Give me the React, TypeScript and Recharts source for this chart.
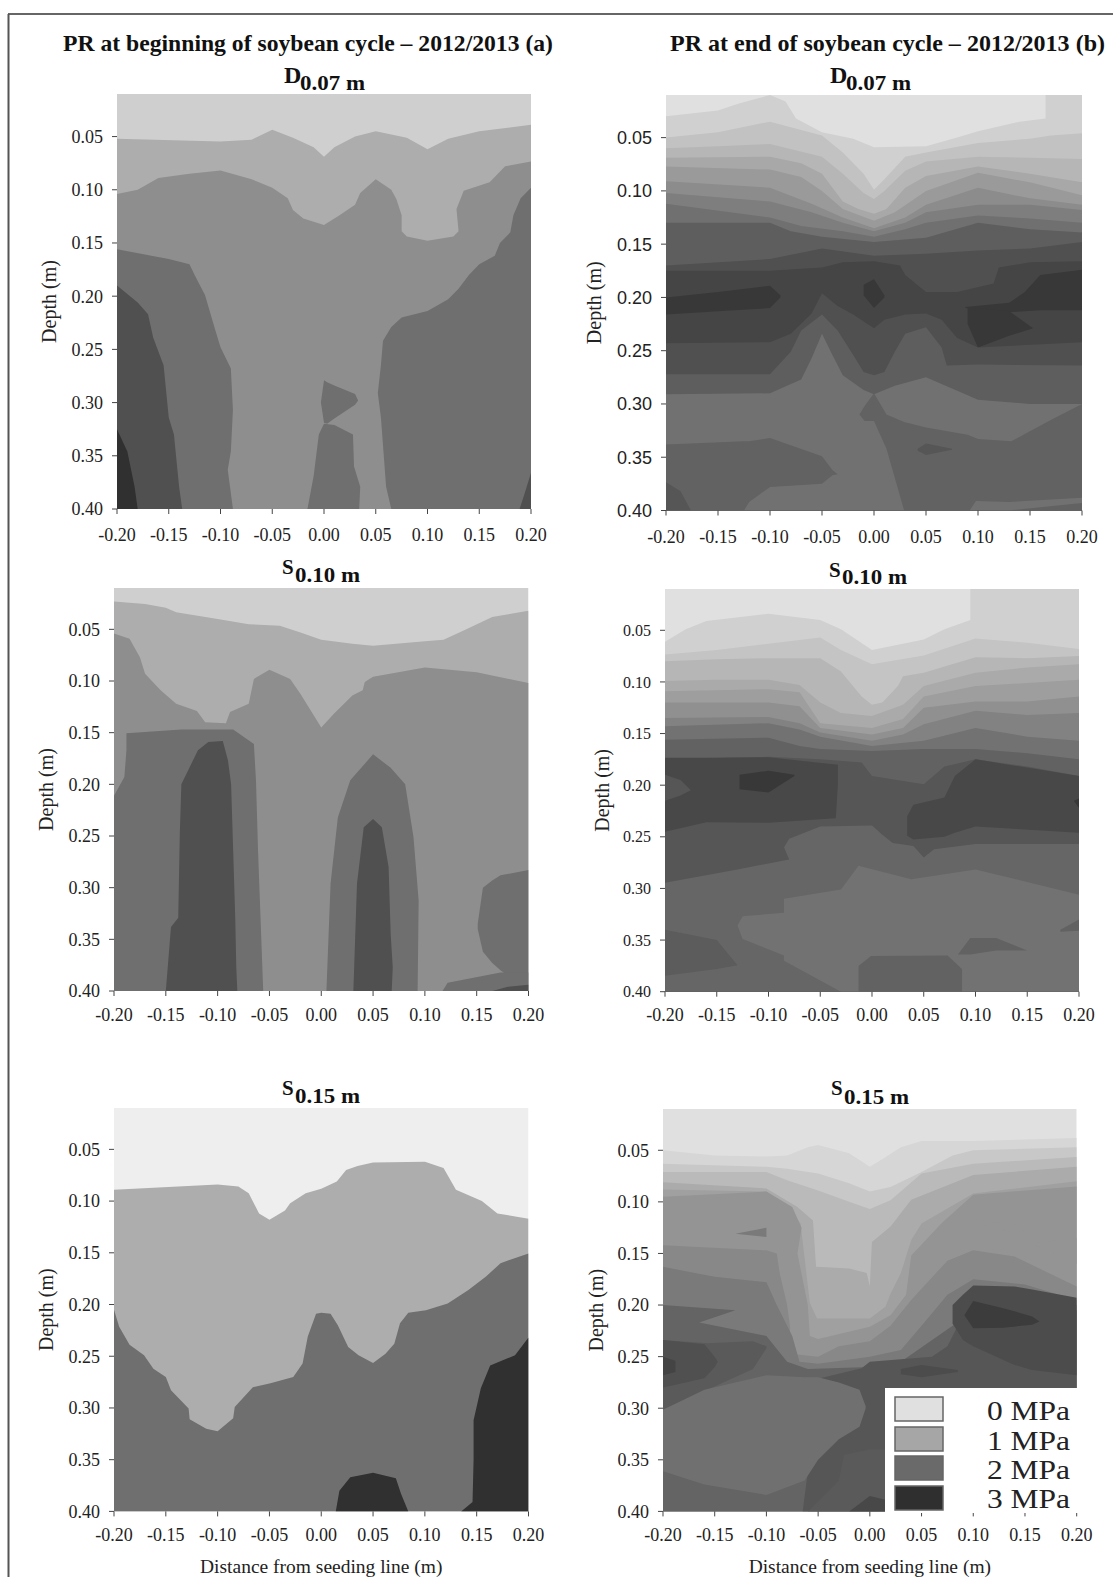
import React from "react";
import { ComposedChart, Area, XAxis, YAxis } from "recharts";

type P = number[];

const xTicks = [-0.2, -0.15, -0.1, -0.05, 0, 0.05, 0.1, 0.15, 0.2];
const yTicks = [0.05, 0.1, 0.15, 0.2, 0.25, 0.3, 0.35, 0.4];
const legendLabels = ["0 MPa", "1 MPa", "2 MPa", "3 MPa"];

// ---- beginning of cycle, D0.07
const a1k1: P[] = [[-0.2,0.052],[-0.1,0.0546],[-0.07,0.053],[-0.05,0.0435],[-0.03,0.051],[-0.01,0.06],[0,0.069],[0.01,0.06],[0.03,0.05],[0.05,0.045],[0.08,0.051],[0.1,0.062],[0.12,0.052],[0.15,0.045],[0.2,0.039]];
const a1k2: P[] = [[-0.2,0.104],[-0.18,0.1],[-0.16,0.089],[-0.13,0.085],[-0.1,0.082],[-0.07,0.09],[-0.05,0.098],[-0.035,0.108],[-0.03,0.119],[-0.02,0.127],[0,0.133],[0.015,0.124],[0.03,0.114],[0.035,0.103],[0.05,0.09],[0.065,0.1],[0.07,0.109],[0.075,0.124],[0.075,0.139],[0.08,0.144],[0.1,0.148],[0.125,0.144],[0.13,0.139],[0.128,0.118],[0.135,0.101],[0.16,0.093],[0.175,0.078],[0.2,0.0735]];
const a1k3L: P[] = [[-0.2,0.156],[-0.15,0.165],[-0.13,0.17],[-0.125,0.18],[-0.115,0.199],[-0.105,0.232],[-0.1,0.248],[-0.09,0.268],[-0.088,0.307],[-0.09,0.346],[-0.093,0.363],[-0.09,0.385],[-0.088,0.4]];
const a1k3R: P[] = [[0.065,0.4],[0.06,0.379],[0.055,0.314],[0.052,0.291],[0.055,0.265],[0.057,0.242],[0.065,0.229],[0.075,0.22],[0.1,0.214],[0.12,0.203],[0.13,0.193],[0.14,0.18],[0.15,0.17],[0.165,0.162],[0.17,0.15],[0.18,0.14],[0.183,0.124],[0.19,0.108],[0.2,0.098]];
const a1k4: P[] = [[-0.2,0.19],[-0.18,0.206],[-0.17,0.217],[-0.165,0.239],[-0.155,0.265],[-0.15,0.314],[-0.145,0.33],[-0.14,0.379],[-0.137,0.4]];
const a1k5: P[] = [[-0.2,0.325],[-0.19,0.346],[-0.183,0.379],[-0.18,0.4]];
const a1isl1: P[] = [[-0.016,0.4],[-0.01,0.369],[-0.005,0.33],[0,0.32],[0.01,0.321],[0.028,0.33],[0.029,0.36],[0.035,0.379],[0.034,0.4]];
const a1isl2: P[] = [[-0.003,0.3,0.3],[0,0.279,0.319],[0.003,0.281,0.32],[0.01,0.284,0.315],[0.03,0.292,0.302],[0.033,0.298,0.298]];
const a1cor: P[] = [[0.189,0.4],[0.194,0.385],[0.2,0.366]];

// ---- beginning of cycle, S0.10
const a2k1: P[] = [[-0.2,0.023],[-0.17,0.0255],[-0.15,0.029],[-0.14,0.0335],[-0.1,0.04],[-0.07,0.045],[-0.04,0.0465],[-0.02,0.053],[0,0.06],[0.03,0.064],[0.05,0.066],[0.1,0.0615],[0.118,0.06],[0.14,0.05],[0.165,0.038],[0.2,0.032]];
const a2k2: P[] = [[-0.2,0.054],[-0.185,0.059],[-0.175,0.077],[-0.17,0.093],[-0.155,0.109],[-0.14,0.122],[-0.12,0.129],[-0.112,0.14],[-0.092,0.141],[-0.088,0.13],[-0.07,0.122],[-0.065,0.098],[-0.05,0.089],[-0.03,0.098],[-0.02,0.1125],[0,0.145],[0.012,0.132],[0.03,0.114],[0.04,0.109],[0.042,0.101],[0.05,0.096],[0.1,0.087],[0.15,0.0916],[0.2,0.102]];
const a2k3: P[] = [[-0.2,0.211],[-0.19,0.193],[-0.188,0.167],[-0.188,0.1505],[-0.135,0.147],[-0.085,0.147],[-0.065,0.161],[-0.063,0.196],[-0.061,0.264],[-0.056,0.4]];
const a2k4: P[] = [[-0.15,0.4],[-0.145,0.338],[-0.138,0.329],[-0.1365,0.248],[-0.135,0.2],[-0.119,0.167],[-0.109,0.159],[-0.095,0.158],[-0.09,0.177],[-0.087,0.2],[-0.085,0.264],[-0.083,0.329],[-0.082,0.377],[-0.081,0.4]];
const a2h1: P[] = [[0.005,0.4],[0.009,0.296],[0.016,0.232],[0.028,0.196],[0.05,0.171],[0.067,0.184],[0.081,0.2],[0.089,0.251],[0.094,0.3125],[0.093,0.4]];
const a2h2: P[] = [[0.031,0.4],[0.0345,0.296],[0.041,0.2416],[0.05,0.2335],[0.0585,0.2416],[0.065,0.28],[0.067,0.345],[0.069,0.377],[0.068,0.4]];
const a2r1: P[] = [[0.151,0.335,0.34],[0.156,0.3,0.362],[0.165,0.293,0.373],[0.173,0.288,0.38],[0.2,0.283,0.4]];
const a2r2: P[] = [[0.117,0.4],[0.122,0.392],[0.173,0.382],[0.2,0.382]];
const a2r3: P[] = [[0.165,0.4],[0.18,0.396],[0.2,0.394]];

// ---- beginning of cycle, S0.15
const a3k1: P[] = [[-0.2,0.089],[-0.1,0.084],[-0.08,0.086],[-0.07,0.0925],[-0.06,0.112],[-0.05,0.118],[-0.035,0.109],[-0.03,0.102],[-0.015,0.0925],[0,0.088],[0.015,0.081],[0.024,0.07],[0.035,0.066],[0.05,0.0626],[0.1,0.062],[0.118,0.068],[0.13,0.089],[0.155,0.1],[0.17,0.112],[0.2,0.117]];
const a3k2: P[] = [[-0.2,0.205],[-0.195,0.2216],[-0.185,0.239],[-0.171,0.249],[-0.162,0.262],[-0.15,0.27],[-0.145,0.283],[-0.128,0.3006],[-0.127,0.311],[-0.111,0.32],[-0.1,0.3226],[-0.085,0.31],[-0.0835,0.299],[-0.066,0.28],[-0.049,0.276],[-0.027,0.27],[-0.018,0.257],[-0.013,0.231],[-0.005,0.209],[0,0.208],[0.009,0.209],[0.016,0.22],[0.026,0.241],[0.036,0.249],[0.05,0.2565],[0.062,0.2475],[0.0705,0.238],[0.076,0.218],[0.084,0.208],[0.101,0.2055],[0.122,0.199],[0.142,0.186],[0.159,0.173],[0.173,0.16],[0.2,0.1506]];
const a3k3: P[] = [[0.135,0.4],[0.146,0.391],[0.147,0.35],[0.147,0.312],[0.154,0.281],[0.163,0.259],[0.187,0.249],[0.2,0.232]];
const a3k4: P[] = [[0.014,0.4],[0.0175,0.38],[0.028,0.367],[0.05,0.3626],[0.072,0.368],[0.077,0.383],[0.084,0.4]];

// ---- end of cycle, D0.07
const b1c1: P[] = [[-0.2,0.03],[-0.15,0.0245],[-0.13,0.018],[-0.1,0.01],[-0.085,0.016],[-0.075,0.032],[-0.05,0.045],[-0.02,0.051],[0,0.059],[0.05,0.058],[0.08,0.05],[0.1,0.044],[0.14,0.035],[0.165,0.032],[0.165,0.01],[0.2,0.01]];
const b1c2: P[] = [[-0.2,0.05],[-0.15,0.045],[-0.1,0.035],[-0.05,0.048],[-0.03,0.064],[-0.01,0.084],[0,0.099],[0.01,0.089],[0.03,0.068],[0.05,0.064],[0.1,0.055],[0.15,0.051],[0.17,0.048],[0.2,0.046]];
const b1c3: P[] = [[-0.2,0.06],[-0.15,0.058],[-0.1,0.056],[-0.05,0.068],[-0.03,0.084],[-0.01,0.102],[0,0.1075],[0.01,0.1],[0.03,0.081],[0.05,0.0725],[0.1,0.068],[0.15,0.069],[0.2,0.07]];
const b1c4: P[] = [[-0.2,0.069],[-0.1,0.068],[-0.07,0.074],[-0.05,0.084],[-0.03,0.11],[-0.015,0.117],[0,0.1215],[0.012,0.117],[0.03,0.097],[0.05,0.086],[0.1,0.077],[0.15,0.084],[0.2,0.092]];
const b1c5: P[] = [[-0.2,0.077],[-0.1,0.08],[-0.07,0.087],[-0.05,0.1],[-0.03,0.117],[0,0.128],[0.02,0.12],[0.05,0.1],[0.1,0.083],[0.15,0.092],[0.2,0.104]];
const b1c6: P[] = [[-0.2,0.091],[-0.1,0.097],[-0.06,0.112],[-0.03,0.125],[0,0.135],[0.03,0.125],[0.05,0.113],[0.1,0.097],[0.15,0.107],[0.2,0.113]];
const b1c7: P[] = [[-0.2,0.102],[-0.1,0.11],[-0.06,0.12],[-0.03,0.13],[0,0.138],[0.03,0.13],[0.05,0.12],[0.1,0.113],[0.15,0.113],[0.2,0.118]];
const b1c8: P[] = [[-0.2,0.112],[-0.1,0.125],[-0.07,0.133],[-0.03,0.138],[0,0.143],[0.03,0.136],[0.05,0.13],[0.1,0.123],[0.15,0.126],[0.2,0.13]];
const b1c9: P[] = [[-0.2,0.13],[-0.1,0.13],[-0.08,0.138],[-0.05,0.143],[0,0.148],[0.05,0.144],[0.1,0.13],[0.15,0.136],[0.2,0.139]];
const b1c10: P[] = [[-0.2,0.17],[-0.1,0.164],[-0.05,0.154],[0,0.161],[0.05,0.159],[0.1,0.156],[0.15,0.154],[0.2,0.148]];
const b1c11: P[] = [[-0.2,0.175],[-0.1,0.175],[-0.05,0.172],[-0.03,0.167],[0,0.166],[0.025,0.17],[0.03,0.179],[0.05,0.195],[0.08,0.195],[0.115,0.187],[0.12,0.172],[0.15,0.167],[0.2,0.166]];
const b1d1: P[] = [[-0.2,0.2,0.216],[-0.15,0.195,0.213],[-0.1,0.189,0.21],[-0.09,0.198,0.2]];
const b1d2: P[] = [[-0.01,0.188,0.198],[0,0.183,0.21],[0.01,0.198,0.2]];
const b1d3: P[] = [[0.088,0.209,0.21],[0.13,0.205,0.214],[0.145,0.195,0.213],[0.16,0.179,0.212],[0.2,0.174,0.212]];
const b1d4: P[] = [[0.09,0.21,0.225],[0.1,0.21,0.247],[0.13,0.213,0.236],[0.153,0.229,0.229]];
const b1c14: P[] = [[-0.2,0.243],[-0.1,0.242],[-0.08,0.234],[-0.06,0.215],[-0.05,0.196],[-0.035,0.208],[-0.02,0.216],[0,0.229],[0.01,0.221],[0.03,0.216],[0.05,0.215],[0.065,0.221],[0.08,0.238],[0.1,0.247],[0.2,0.242]];
const b1c15: P[] = [[-0.2,0.272],[-0.1,0.272],[-0.08,0.251],[-0.07,0.231],[-0.05,0.216],[-0.035,0.231],[-0.02,0.254],[-0.01,0.27],[0,0.273],[0.01,0.27],[0.02,0.251],[0.03,0.234],[0.05,0.228],[0.065,0.247],[0.07,0.264],[0.1,0.263],[0.2,0.264]];
const b1c16: P[] = [[-0.2,0.291],[-0.1,0.29],[-0.07,0.277],[-0.06,0.257],[-0.05,0.234],[-0.04,0.254],[-0.03,0.273],[-0.01,0.287],[0,0.291],[0.02,0.283],[0.05,0.275],[0.1,0.296],[0.15,0.3],[0.2,0.3]];
const b1l1: P[] = [[-0.2,0.338,0.4],[-0.125,0.335,0.4],[-0.12,0.335,0.392],[-0.1,0.332,0.378],[-0.05,0.349,0.375],[-0.04,0.362,0.367],[-0.035,0.366,0.366]];
const b1r1: P[] = [[-0.014,0.31,0.31],[-0.009,0.302,0.316],[0,0.29,0.316],[0.012,0.31,0.342],[0.029,0.317,0.4],[0.05,0.322,0.4],[0.09,0.329,0.4],[0.1,0.333,0.4],[0.132,0.335,0.4],[0.17,0.315,0.4],[0.2,0.3,0.4]];
const b1r2: P[] = [[0.092,0.4,0.4],[0.098,0.391,0.4],[0.13,0.392,0.4],[0.2,0.388,0.393]];
const b1r3: P[] = [[0.042,0.342,0.344],[0.05,0.337,0.348],[0.075,0.342,0.343]];
const b1cor: P[] = [[-0.2,0.3735],[-0.186,0.382],[-0.176,0.4]];

// ---- end of cycle, S0.10
const b2c1: P[] = [[-0.2,0.061],[-0.18,0.049],[-0.16,0.041],[-0.1,0.034],[-0.05,0.04],[-0.03,0.049],[0,0.069],[0.05,0.059],[0.07,0.049],[0.095,0.04],[0.095,0.01],[0.2,0.01]];
const b2c2: P[] = [[-0.2,0.0735],[-0.15,0.069],[-0.1,0.063],[-0.05,0.057],[-0.03,0.069],[0,0.083],[0.05,0.0745],[0.1,0.058],[0.15,0.062],[0.2,0.068]];
const b2c3: P[] = [[-0.2,0.08],[-0.15,0.078],[-0.1,0.077],[-0.05,0.077],[-0.03,0.09],[-0.01,0.114],[0,0.122],[0.01,0.12],[0.025,0.104],[0.03,0.0945],[0.05,0.091],[0.1,0.076],[0.15,0.077],[0.2,0.075]];
const b2c4: P[] = [[-0.2,0.099],[-0.15,0.098],[-0.1,0.098],[-0.07,0.103],[-0.05,0.12],[-0.03,0.13],[0,0.133],[0.03,0.122],[0.05,0.104],[0.1,0.091],[0.15,0.086],[0.2,0.083]];
const b2c5: P[] = [[-0.2,0.109],[-0.1,0.107],[-0.07,0.11],[-0.05,0.14],[0,0.1445],[0.03,0.136],[0.05,0.114],[0.1,0.104],[0.15,0.101],[0.2,0.098]];
const b2c6: P[] = [[-0.2,0.12],[-0.1,0.12],[-0.07,0.1235],[-0.05,0.1445],[0,0.151],[0.03,0.1445],[0.05,0.125],[0.1,0.119],[0.15,0.119],[0.2,0.114]];
const b2c7: P[] = [[-0.2,0.135],[-0.1,0.134],[-0.07,0.14],[-0.05,0.149],[0,0.157],[0.03,0.151],[0.05,0.141],[0.1,0.128],[0.15,0.132],[0.2,0.13]];
const b2c8: P[] = [[-0.2,0.143],[-0.1,0.14],[-0.07,0.146],[-0.05,0.153],[0,0.162],[0.05,0.157],[0.1,0.1445],[0.15,0.153],[0.2,0.157]];
const b2c9: P[] = [[-0.2,0.156],[-0.1,0.154],[-0.07,0.162],[-0.05,0.165],[0,0.167],[0.05,0.165],[0.1,0.165],[0.15,0.169],[0.2,0.175]];
const b2c10: P[] = [[-0.2,0.175],[-0.1,0.1725],[-0.05,0.175],[-0.01,0.178],[0,0.191],[0.05,0.199],[0.07,0.182],[0.1,0.175],[0.15,0.182],[0.2,0.191]];
const b2l2: P[] = [[-0.2,0.2945],[-0.13,0.2816],[-0.08,0.272],[-0.085,0.26],[-0.08,0.252],[-0.05,0.24],[0,0.239],[0.01,0.248],[0.02,0.256],[0.04,0.259],[0.05,0.27],[0.06,0.262],[0.1,0.257],[0.2,0.257]];
const b2i1: P[] = [[-0.2,0.1735,0.245],[-0.16,0.1735,0.236],[-0.1,0.173,0.2365],[-0.035,0.18,0.232],[-0.033,0.18,0.2]];
const b2w1: P[] = [[-0.2,0.19,0.215],[-0.185,0.195,0.21],[-0.175,0.205,0.205]];
const b2i2: P[] = [[-0.128,0.19,0.204],[-0.1,0.186,0.207],[-0.075,0.19,0.191]];
const b2i3: P[] = [[0.034,0.23,0.249],[0.04,0.219,0.2525],[0.07,0.212,0.25],[0.08,0.191,0.246],[0.1,0.175,0.24],[0.2,0.191,0.246]];
const b2i4: P[] = [[0.195,0.215,0.215],[0.2,0.213,0.222]];
const b2m: P[] = [[-0.13,0.336,0.336],[-0.125,0.327,0.349],[-0.085,0.3235,0.365],[-0.085,0.31,0.37],[-0.03,0.301,0.4],[-0.013,0.278,0.4],[0.038,0.291,0.4],[0.1,0.2816,0.4],[0.2,0.306,0.4]];
const b2b1: P[] = [[-0.2,0.34,0.3845],[-0.15,0.35,0.378],[-0.13,0.3745,0.3745]];
const b2b2: P[] = [[-0.013,0.4],[-0.013,0.375],[-0.001,0.3655],[0.073,0.365],[0.087,0.378],[0.087,0.4]];
const b2b3: P[] = [[0.083,0.364,0.364],[0.095,0.348,0.364],[0.12,0.348,0.36],[0.15,0.36,0.36]];
const b2b4: P[] = [[0.182,0.34,0.342],[0.2,0.33,0.341]];

// ---- end of cycle, S0.15
const b3k1: P[] = [[-0.2,0.05],[-0.15,0.055],[-0.1,0.056],[-0.08,0.055],[-0.06,0.047],[-0.05,0.045],[-0.02,0.053],[0,0.066],[0.01,0.06],[0.03,0.047],[0.05,0.041],[0.1,0.041],[0.2,0.038]];
const b3k2: P[] = [[-0.2,0.063],[-0.1,0.066],[-0.08,0.068],[-0.05,0.0725],[-0.02,0.082],[0,0.09],[0.02,0.0855],[0.05,0.071],[0.08,0.055],[0.1,0.05],[0.2,0.047]];
const b3k3: P[] = [[-0.2,0.071],[-0.1,0.071],[-0.08,0.079],[-0.05,0.089],[-0.02,0.1],[0,0.107],[0.02,0.0985],[0.05,0.0725],[0.1,0.063],[0.2,0.0565]];
const b3k4: P[] = [[-0.2,0.081],[-0.1,0.087],[-0.07,0.105],[-0.055,0.118],[-0.052,0.163],[-0.02,0.1645],[-0.003,0.169],[0,0.182],[0.002,0.139],[0.02,0.124],[0.04,0.098],[0.1,0.074],[0.2,0.066]];
const b3k5: P[] = [[-0.2,0.088],[-0.1,0.09],[-0.08,0.105],[-0.067,0.121],[-0.058,0.198],[-0.051,0.213],[0,0.213],[0.015,0.2016],[0.02,0.189],[0.03,0.169],[0.04,0.137],[0.05,0.121],[0.1,0.092],[0.2,0.08]];
const b3k6: P[] = [[-0.2,0.095],[-0.1,0.09],[-0.075,0.105],[-0.066,0.125],[-0.07,0.15],[-0.06,0.2],[-0.058,0.23],[-0.05,0.233],[0,0.221],[0.02,0.21],[0.035,0.19],[0.04,0.152],[0.07,0.12],[0.1,0.093],[0.2,0.085]];
const b3k7: P[] = [[-0.2,0.142],[-0.1,0.147],[-0.09,0.15],[-0.087,0.17],[-0.08,0.2],[-0.077,0.222],[-0.079,0.247],[-0.05,0.25],[-0.03,0.24],[0,0.235],[0.02,0.22],[0.04,0.195],[0.075,0.157],[0.1,0.147],[0.14,0.153],[0.2,0.182]];
const b3k8: P[] = [[-0.2,0.163],[-0.15,0.1726],[-0.1,0.178],[-0.09,0.2],[-0.075,0.23],[-0.068,0.255],[-0.05,0.257],[0,0.25],[0.03,0.2435],[0.05,0.22],[0.075,0.19],[0.1,0.175],[0.15,0.18],[0.2,0.195]];
const b3k9: P[] = [[-0.2,0.2],[-0.13,0.205],[-0.165,0.217],[-0.1,0.23],[-0.08,0.255],[-0.06,0.262],[0,0.26],[0.03,0.255],[0.08,0.22],[0.1,0.2],[0.15,0.2],[0.2,0.2]];
const b3low: P[] = [[-0.065,0.4],[-0.048,0.271],[-0.008,0.2613],[0,0.255],[0.06,0.25],[0.075,0.24],[0.08,0.23],[0.09,0.21],[0.1,0.2],[0.12,0.197],[0.2,0.205]];
const b3d1: P[] = [[0.08,0.2,0.218],[0.09,0.19,0.234],[0.1,0.181,0.24],[0.14,0.182,0.258],[0.157,0.185,0.263],[0.2,0.193,0.268]];
const b3d2: P[] = [[0.0914,0.21,0.21],[0.1,0.196,0.2226],[0.129,0.203,0.222],[0.157,0.211,0.219],[0.164,0.216,0.216]];
const b3l1: P[] = [[-0.2,0.234,0.3016],[-0.157,0.237,0.282],[-0.113,0.235,0.262],[-0.1,0.24,0.242]];
const b3l2: P[] = [[-0.2,0.234,0.28],[-0.16,0.238,0.271],[-0.15,0.25,0.26],[-0.147,0.255,0.255]];
const b3l3: P[] = [[-0.2,0.25,0.268],[-0.188,0.254,0.265]];
const b3m: P[] = [[-0.2,0.3016,0.361],[-0.16,0.282,0.374],[-0.1,0.268,0.384],[-0.063,0.27,0.37],[-0.05,0.27,0.35],[-0.03,0.275,0.33],[-0.01,0.282,0.318],[-0.004,0.298,0.3]];
const b3c1: P[] = [[-0.06,0.4],[-0.03,0.37],[-0.025,0.345],[0,0.34],[0.02,0.34]];
const b3c2: P[] = [[-0.02,0.4],[0,0.385],[0.02,0.39]];
const b3e1: P[] = [[-0.13,0.131,0.131],[-0.1,0.125,0.134]];
const b3e2: P[] = [[0.16,0.14,0.142],[0.19,0.136,0.155],[0.2,0.135,0.16]];
const b3e3: P[] = [[0.03,0.262,0.267],[0.05,0.258,0.27],[0.085,0.263,0.265]];
const b3e4: P[] = [[0.1,0.117,0.12],[0.14,0.122,0.13],[0.148,0.127,0.128]];

type Panel = {
  box: number[]; base: string; layers: [P[], string][]; serif: boolean; yFont: number; labelX: number; xGap: number; xTitle?: boolean;
};
const panels: Panel[] = [
  { box: [117, 531, 94, 509], base: "#cfcfcf", serif: true, yFont: 18, labelX: 49, xGap: 14,
    layers: [[a1k1,"#adadad"],[a1k2,"#8e8e8e"],[a1k3L,"#6f6f6f"],[a1k3R,"#6f6f6f"],[a1k4,"#505050"],[a1k5,"#303030"],[a1isl1,"#6f6f6f"],[a1isl2,"#6f6f6f"],[a1cor,"#505050"]] },
  { box: [666, 1082, 94.5, 510], base: "#e0e0e0", serif: false, yFont: 18, labelX: 594, xGap: 15,
    layers: [[b1c1,"#d0d0d0"],[b1c2,"#c2c2c2"],[b1c3,"#b6b6b6"],[b1c4,"#a8a8a8"],[b1c5,"#9a9a9a"],[b1c6,"#8c8c8c"],[b1c7,"#7e7e7e"],[b1c8,"#707070"],[b1c9,"#5e5e5e"],[b1c10,"#505050"],[b1c11,"#454545"],[b1d1,"#383838"],[b1d2,"#383838"],[b1d3,"#383838"],[b1d4,"#383838"],[b1c14,"#505050"],[b1c15,"#5e5e5e"],[b1c16,"#717171"],[b1l1,"#626262"],[b1r1,"#626262"],[b1r2,"#717171"],[b1r3,"#565656"],[b1cor,"#565656"]] },
  { box: [113.5, 528, 587.7, 990.7], base: "#cfcfcf", serif: true, yFont: 18, labelX: 45, xGap: 12,
    layers: [[a2k1,"#adadad"],[a2k2,"#8e8e8e"],[a2k3,"#6f6f6f"],[a2k4,"#505050"],[a2h1,"#6f6f6f"],[a2h2,"#505050"],[a2r1,"#6f6f6f"],[a2r2,"#6f6f6f"],[a2r3,"#505050"]] },
  { box: [665, 1079, 589, 991.7], base: "#e0e0e0", serif: true, yFont: 16, labelX: 602, xGap: 12,
    layers: [[b2c1,"#d0d0d0"],[b2c2,"#c4c4c4"],[b2c3,"#b6b6b6"],[b2c4,"#aaaaaa"],[b2c5,"#9e9e9e"],[b2c6,"#909090"],[b2c7,"#828282"],[b2c8,"#727272"],[b2c9,"#626262"],[b2c10,"#565656"],[b2l2,"#666666"],[b2i1,"#484848"],[b2w1,"#565656"],[b2i2,"#383838"],[b2i3,"#484848"],[b2i4,"#383838"],[b2m,"#727272"],[b2b1,"#5c5c5c"],[b2b2,"#626262"],[b2b3,"#626262"],[b2b4,"#626262"]] },
  { box: [113.5, 528, 1108.3, 1511.7], base: "#eeeeee", serif: true, yFont: 18, labelX: 45, xGap: 12, xTitle: true,
    layers: [[a3k1,"#adadad"],[a3k2,"#6f6f6f"],[a3k3,"#303030"],[a3k4,"#303030"]] },
  { box: [663.3, 1077, 1109.3, 1511.7], base: "#e0e0e0", serif: true, yFont: 18, labelX: 596, xGap: 12, xTitle: true,
    layers: [[b3k1,"#d6d6d6"],[b3k2,"#c8c8c8"],[b3k3,"#bababa"],[b3k4,"#ababab"],[b3k5,"#a0a0a0"],[b3k6,"#949494"],[b3k7,"#888888"],[b3k8,"#7a7a7a"],[b3e4,"#949494"],[b3e2,"#949494"],[b3e1,"#7a7a7a"],[b3k9,"#646464"],[b3low,"#565656"],[b3d1,"#4c4c4c"],[b3d2,"#3c3c3c"],[b3l1,"#5a5a5a"],[b3l2,"#505050"],[b3l3,"#444444"],[b3m,"#707070"],[b3c1,"#5a5a5a"],[b3c2,"#484848"],[b3e3,"#4c4c4c"]] },
];

const SERIF = "'Liberation Serif', serif";
const SANS = "'Liberation Sans', sans-serif";
const Y_W = 110;
const X_H = 70;

function rows(pts: P[]) {
  return pts.map(([x, t, b]) => ({ x, band: [t, b === undefined ? 0.4 : b] }));
}

function ContourPanel({ p }: { p: Panel }) {
  const [L, R, T, B] = p.box;
  const width = R - L + Y_W + 30;
  const height = B - T + X_H + 4;
  return (
    <div style={{ position: "absolute", left: L - Y_W, top: T - 4 }}>
      <ComposedChart width={width} height={height} margin={{ top: 4, right: 30, bottom: 0, left: 0 }}>
        <XAxis type="number" dataKey="x" domain={[-0.2, 0.2]} ticks={xTicks} interval={0} allowDataOverflow
          height={X_H} axisLine={false} tickLine={{ stroke: "#444", strokeWidth: 1 }} tickSize={5} tickMargin={p.xGap}
          tickFormatter={(v: number) => v.toFixed(2)} tick={{ fontFamily: SERIF, fontSize: 18, fill: "#222" }}
          label={p.xTitle ? { value: "Distance from seeding line (m)", position: "insideBottom", offset: 8, style: { fontFamily: SERIF, fontSize: 19.5, fill: "#222" } } : undefined} />
        <YAxis type="number" domain={[0.01, 0.4]} reversed ticks={yTicks} interval={0} allowDataOverflow
          width={Y_W} axisLine={false} tickLine={{ stroke: "#444", strokeWidth: 1 }} tickSize={5} tickMargin={9}
          tickFormatter={(v: number) => v.toFixed(2)}
          tick={{ fontFamily: p.serif ? SERIF : SANS, fontSize: p.yFont, fill: "#222" }}
          label={{ value: "Depth (m)", angle: -90, position: "insideLeft", offset: p.labelX - (L - Y_W), style: { fontFamily: SERIF, fontSize: 20, fill: "#222", textAnchor: "middle" } }} />
        <Area data={rows([[-0.2, 0.01, 0.4], [0.2, 0.01, 0.4]])} dataKey="band" type="linear" fill={p.base} fillOpacity={1} stroke="none" dot={false} activeDot={false} isAnimationActive={false} />
        {p.layers.map(([pts, tone], i) => (
          <Area key={i} data={rows(pts)} dataKey="band" type="linear" fill={tone} fillOpacity={1} stroke="none" dot={false} activeDot={false} isAnimationActive={false} />
        ))}
      </ComposedChart>
    </div>
  );
}

const mainTitles: [string, number, number, number][] = [
  ["PR at beginning of soybean cycle – 2012/2013 (a)", 63, 51, 490],
  ["PR at end of soybean cycle – 2012/2013 (b)", 670, 51, 435],
];
const subTitles: [string, string, number, number, number][] = [
  ["D", "0.07 m", 284, 83, 90],
  ["D", "0.07 m", 830, 83, 90],
  ["S", "0.10 m", 282, 574, 582],
  ["S", "0.10 m", 829, 577, 584],
  ["S", "0.15 m", 282, 1095, 1103],
  ["S", "0.15 m", 831, 1095, 1104],
];
const legendTones = ["#e0e0e0", "#a6a6a6", "#6a6a6a", "#2f2f2f"];
const legendTop = [1397, 1427, 1456, 1486];
const legendBase = [1420, 1450, 1479, 1508];

export default function App() {
  return (
    <div style={{ position: "absolute", left: 0, top: 0, width: 1113, height: 1577, background: "#fff", overflow: "hidden" }}>
      {panels.map((p, i) => <ContourPanel key={i} p={p} />)}
      <svg width={1113} height={1577} style={{ position: "absolute", left: 0, top: 0, pointerEvents: "none" }}>
        <line x1={8} y1={14} x2={1113} y2={14} stroke="#333" strokeWidth={1.5} />
        <line x1={8.5} y1={14} x2={8.5} y2={1577} stroke="#555" strokeWidth={2} />
        {mainTitles.map(([t, x, y, w], i) => (
          <text key={i} x={x} y={y} textLength={w} lengthAdjust="spacingAndGlyphs" fontFamily={SERIF} fontWeight="bold" fontSize={22.5} fill="#111">{t}</text>
        ))}
        {subTitles.map(([a, b, x, y1, y2], i) => (
          <g key={i} fontFamily={SERIF} fontWeight="bold" fill="#111">
            <text x={x} y={y1} fontSize={a === "D" ? 24 : 21}>{a}</text>
            <text x={x + (a === "D" ? 16 : 13)} y={y2} fontSize={22} textLength={65} lengthAdjust="spacingAndGlyphs">{b}</text>
          </g>
        ))}
        <rect x={885} y={1388} width={193} height={125} fill="#fff" />
        {legendLabels.map((t, i) => (
          <g key={t}>
            <rect x={895} y={legendTop[i]} width={48} height={24} fill={legendTones[i]} stroke="#666" strokeWidth={1.5} />
            <text x={987} y={legendBase[i]} fontFamily={SERIF} fontSize={27} textLength={83} lengthAdjust="spacingAndGlyphs" fill="#222">{t}</text>
          </g>
        ))}
      </svg>
    </div>
  );
}
